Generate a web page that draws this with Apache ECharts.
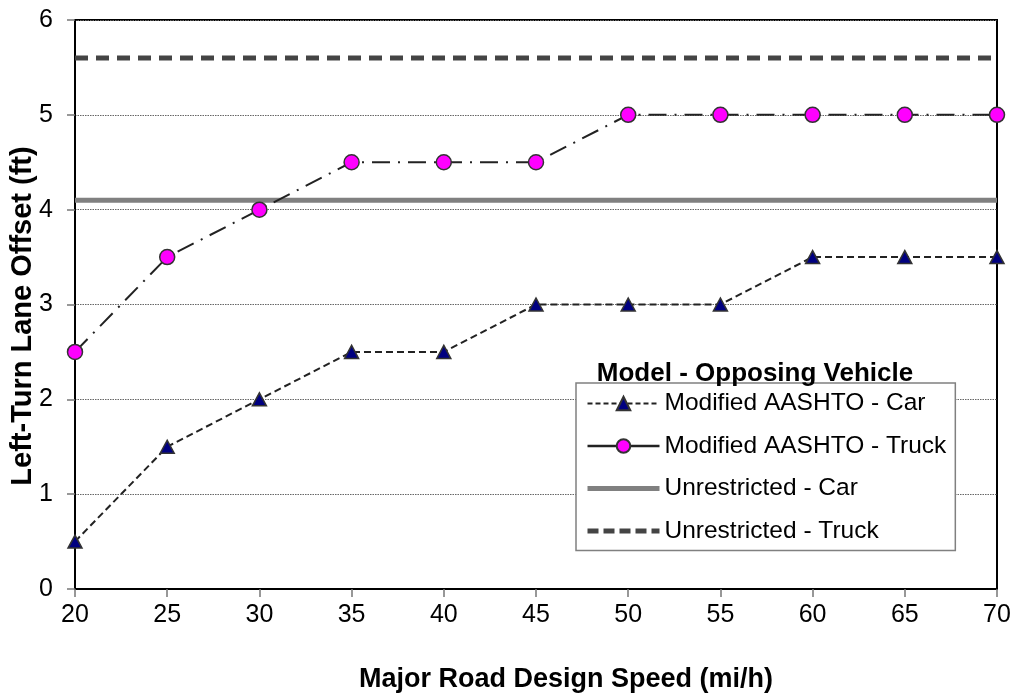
<!DOCTYPE html>
<html>
<head>
<meta charset="utf-8">
<script src="https://cdn.jsdelivr.net/npm/echarts@6/dist/echarts.min.js"></script>
<style>
html,body{margin:0;padding:0;background:#fff;}
#chart{width:1014px;height:696px;}
</style>
</head>
<body>
<div id="chart"></div>
<script>
const speeds = [20, 25, 30, 35, 40, 45, 50, 55, 60, 65, 70];
const modifiedCar = [0.5, 1.5, 2, 2.5, 2.5, 3, 3, 3, 3.5, 3.5, 3.5];
const modifiedTruck = [2.5, 3.5, 4, 4.5, 4.5, 4.5, 5, 5, 5, 5, 5];
const unrestrictedCar = [4.1, 4.1, 4.1, 4.1, 4.1, 4.1, 4.1, 4.1, 4.1, 4.1, 4.1];
const unrestrictedTruck = [5.6, 5.6, 5.6, 5.6, 5.6, 5.6, 5.6, 5.6, 5.6, 5.6, 5.6];
const seriesNames = ['Modified AASHTO - Car', 'Modified AASHTO - Truck', 'Unrestricted - Car', 'Unrestricted - Truck'];
const xTitle = 'Major Road Design Speed (mi/h)';
const yTitle = 'Left-Turn Lane Offset (ft)';
const legendTitle = 'Model - Opposing Vehicle';

const pairs = arr => speeds.map((s, i) => [s, arr[i]]);
const FONT = '"Liberation Sans", Arial, sans-serif';

const chart = echarts.init(document.getElementById('chart'), null, {renderer: 'canvas'});
chart.setOption({
  animation: false,
  backgroundColor: '#fff',
  textStyle: {fontFamily: FONT},
  grid: {left: 75, right: 17, top: 20, bottom: 107, show: true, borderColor: '#000', borderWidth: 2, backgroundColor: 'transparent'},
  xAxis: {
    type: 'value', min: 20, max: 70, interval: 5,
    axisLine: {show: true, onZero: false, lineStyle: {color: '#000', width: 2}},
    axisTick: {show: true, inside: false, length: 8, lineStyle: {color: '#777', width: 1.5}},
    axisLabel: {color: '#000', fontSize: 25, fontFamily: FONT, margin: 14},
    splitLine: {show: false}
  },
  yAxis: {
    type: 'value', min: 0, max: 6, interval: 1,
    axisLine: {show: true, lineStyle: {color: '#000', width: 2}},
    axisTick: {show: true, inside: false, length: 8, lineStyle: {color: '#777', width: 1.5}},
    axisLabel: {color: '#000', fontSize: 25, fontFamily: FONT, margin: 22},
    splitLine: {show: true, lineStyle: {color: '#666', width: 1, type: [1.5, 1]}}
  },
  legend: {
    orient: 'vertical', left: 576, top: 383,
    data: [
      {name: seriesNames[0], lineStyle: {width: 2, type: [5, 3]}},
      {name: seriesNames[1], lineStyle: {width: 2.5, type: 'solid'}},
      {name: seriesNames[2], lineStyle: {width: 5, type: 'solid'}, itemStyle: {opacity: 0}},
      {name: seriesNames[3], lineStyle: {width: 5, type: [11, 5]}, itemStyle: {opacity: 0}}
    ],
    itemWidth: 72, itemHeight: 17, itemGap: 17.5,
    padding: [8, 9, 7, 9],
    borderColor: '#808080', borderWidth: 1.5, backgroundColor: '#fff',
    textStyle: {color: '#000', fontSize: 24.5, fontFamily: FONT},
    selectedMode: false
  },
  graphic: [
    {type: 'text', style: {text: xTitle, fontSize: 27, fontWeight: 'bold', fontFamily: FONT, fill: '#000', align: 'center', verticalAlign: 'middle'}, x: 566, y: 680},
    {type: 'text', style: {text: legendTitle, fontSize: 26, fontWeight: 'bold', fontFamily: FONT, fill: '#000', align: 'center', verticalAlign: 'middle'}, x: 755, y: 374, z: 100},
    {type: 'text', style: {text: yTitle, fontSize: 29, fontWeight: 'bold', fontFamily: FONT, fill: '#000', align: 'center', verticalAlign: 'middle'}, x: 23, y: 316, rotation: Math.PI / 2}
  ],
  series: [
    {
      name: seriesNames[0], type: 'line', data: pairs(modifiedCar), z: 5,
      symbol: 'triangle', symbolSize: [14, 13],
      lineStyle: {color: '#222', width: 2, type: [7, 4]},
      itemStyle: {color: '#000080', borderColor: '#333', borderWidth: 1.5}
    },
    {
      name: seriesNames[1], type: 'line', data: pairs(modifiedTruck), z: 5,
      symbol: 'circle', symbolSize: 15,
      lineStyle: {color: '#222', width: 2, type: [18, 8, 2, 8]},
      itemStyle: {color: '#ff00ff', borderColor: '#333', borderWidth: 1.5}
    },
    {
      name: seriesNames[2], type: 'line', data: pairs(unrestrictedCar), z: 3,
      symbol: 'none',
      lineStyle: {color: '#808080', width: 5, type: 'solid'},
      itemStyle: {color: '#808080'}
    },
    {
      name: seriesNames[3], type: 'line', data: pairs(unrestrictedTruck), z: 3,
      symbol: 'none',
      lineStyle: {color: '#444', width: 5, type: [13, 8]},
      itemStyle: {color: '#444'}
    }
  ]
});
</script>
</body>
</html>
